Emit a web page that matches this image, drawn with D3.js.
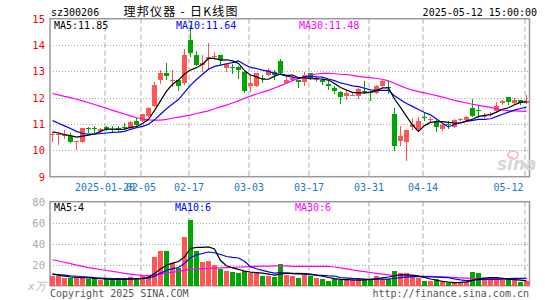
<!DOCTYPE html>
<html>
<head>
<meta charset="utf-8">
<script src="https://cdn.jsdelivr.net/npm/d3@7/dist/d3.min.js"></script>
<style>
  body { margin: 0; background: #fff; }
  text { font-family: "DejaVu Sans Mono", monospace; font-size: 10px; }
</style>
</head>
<body>
<script>
// trading days shown on the chart
var dates = [
  "2025-01-07","2025-01-08","2025-01-09","2025-01-10","2025-01-13","2025-01-14","2025-01-15","2025-01-16","2025-01-17","2025-01-20",
  "2025-01-21","2025-01-22","2025-01-23","2025-01-24","2025-01-27","2025-02-05","2025-02-06","2025-02-07","2025-02-10","2025-02-11",
  "2025-02-12","2025-02-13","2025-02-14","2025-02-17","2025-02-18","2025-02-19","2025-02-20","2025-02-21","2025-02-24","2025-02-25",
  "2025-02-26","2025-02-27","2025-02-28","2025-03-03","2025-03-04","2025-03-05","2025-03-06","2025-03-07","2025-03-10","2025-03-11",
  "2025-03-12","2025-03-13","2025-03-14","2025-03-17","2025-03-18","2025-03-19","2025-03-20","2025-03-21","2025-03-24","2025-03-25",
  "2025-03-26","2025-03-27","2025-03-28","2025-03-31","2025-04-01","2025-04-02","2025-04-03","2025-04-07","2025-04-08","2025-04-09",
  "2025-04-10","2025-04-11","2025-04-14","2025-04-15","2025-04-16","2025-04-17","2025-04-18","2025-04-21","2025-04-22","2025-04-23",
  "2025-04-24","2025-04-25","2025-04-28","2025-04-29","2025-04-30","2025-05-06","2025-05-07","2025-05-08","2025-05-09","2025-05-12"
];

var open = [
  10.60,10.58,10.57,10.55,10.30,10.33,10.86,10.84,10.72,10.87,
  10.83,10.84,10.88,10.84,11.13,11.13,11.31,11.68,12.67,12.94,
  12.64,12.67,12.54,14.21,13.61,13.26,13.48,13.57,13.64,13.14,
  13.16,13.17,12.98,12.45,12.44,12.75,12.85,12.98,13.40,12.56,
  12.69,12.68,12.58,12.94,12.67,12.68,12.53,12.37,12.20,12.08,
  12.10,12.05,12.26,12.20,12.18,12.43,12.39,11.39,10.34,10.30,
  10.90,10.80,11.27,11.17,11.12,10.82,11.02,10.90,11.17,11.16,
  11.60,11.55,11.30,11.37,11.50,11.79,12.04,11.79,11.91,11.79
];
var high = [
  10.70,10.68,10.77,10.67,10.35,10.86,10.90,10.92,10.84,10.93,
  10.92,10.92,11.03,11.13,11.22,11.40,11.66,12.58,13.04,13.32,
  13.04,12.67,13.84,14.75,13.77,13.61,14.07,13.73,13.64,13.29,
  13.29,13.19,13.04,12.85,12.94,12.88,13.13,13.07,13.48,12.79,
  12.81,12.68,12.97,12.94,12.81,12.75,12.62,12.43,12.24,12.33,
  12.18,12.37,12.62,12.24,12.49,12.66,12.65,11.61,10.92,10.78,
  11.22,11.26,11.41,11.26,11.14,11.02,11.10,11.18,11.22,11.31,
  11.95,11.72,11.41,11.47,11.82,11.91,12.04,11.97,11.91,12.10
];
var low = [
  10.33,10.20,10.42,10.27,10.00,10.27,10.67,10.65,10.67,10.75,
  10.68,10.70,10.78,10.80,10.93,11.09,11.26,11.63,12.53,12.67,
  12.40,12.25,12.50,13.55,13.19,12.98,13.10,13.42,13.23,12.98,
  12.91,12.72,12.16,12.20,12.41,12.54,12.83,12.66,12.89,12.54,
  12.62,12.37,12.43,12.68,12.60,12.47,12.30,12.14,11.76,11.90,
  12.08,11.95,12.14,11.86,12.15,12.40,12.15,9.96,10.18,9.58,
  10.78,10.75,11.13,11.06,10.69,10.75,10.82,10.84,11.10,11.13,
  11.26,11.22,11.22,11.28,11.41,11.72,11.72,11.72,11.72,11.76
];
var close = [
  10.64,10.63,10.60,10.30,10.35,10.84,10.81,10.80,10.81,10.81,
  10.81,10.78,10.86,11.09,10.97,11.38,11.62,12.48,12.94,12.83,
  12.67,12.45,13.61,13.70,13.26,13.33,13.55,13.60,13.42,13.29,
  13.13,13.07,12.25,12.56,12.92,12.72,13.07,12.85,12.94,12.69,
  12.73,12.58,12.87,12.75,12.70,12.58,12.43,12.24,12.02,12.18,
  12.12,12.34,12.24,12.18,12.46,12.62,12.35,10.15,10.56,10.76,
  11.00,11.13,11.23,11.20,10.90,10.97,10.99,11.15,11.19,11.28,
  11.31,11.53,11.32,11.38,11.69,11.87,11.82,11.90,11.80,11.86
];

var ma5 = [
  10.70,10.66,10.60,10.56,10.50,10.54,10.58,10.62,10.72,10.81,
  10.81,10.80,10.81,10.87,10.90,11.02,11.18,11.51,11.88,12.25,
  12.51,12.67,12.90,13.05,13.14,13.27,13.49,13.49,13.43,13.44,
  13.40,13.30,13.03,12.86,12.79,12.70,12.70,12.82,12.90,12.85,
  12.86,12.76,12.76,12.72,12.73,12.70,12.67,12.54,12.39,12.29,
  12.20,12.18,12.18,12.21,12.27,12.37,12.37,11.95,11.63,11.29,
  10.96,10.72,10.94,11.06,11.09,11.09,11.06,11.04,11.04,11.12,
  11.18,11.29,11.33,11.36,11.45,11.56,11.62,11.73,11.82,11.85
];
var ma10 = [
  11.13,11.03,10.93,10.83,10.72,10.64,10.62,10.62,10.64,10.66,
  10.68,10.69,10.72,10.80,10.86,10.91,10.99,11.16,11.37,11.58,
  11.76,11.93,12.20,12.47,12.69,12.89,13.08,13.19,13.24,13.29,
  13.33,13.40,13.26,13.15,13.11,13.05,13.00,12.93,12.88,12.82,
  12.78,12.73,12.79,12.81,12.79,12.78,12.71,12.65,12.56,12.51,
  12.45,12.42,12.36,12.30,12.28,12.28,12.28,12.07,11.92,11.78,
  11.67,11.55,11.44,11.35,11.19,11.03,10.89,10.99,11.05,11.10,
  11.14,11.18,11.18,11.20,11.28,11.37,11.45,11.53,11.59,11.64
];
var ma30 = [
  12.16,12.11,12.05,12.00,11.94,11.88,11.81,11.74,11.67,11.60,
  11.52,11.45,11.38,11.31,11.24,11.19,11.16,11.15,11.15,11.18,
  11.22,11.26,11.30,11.34,11.40,11.45,11.50,11.58,11.65,11.72,
  11.80,11.88,11.98,12.06,12.14,12.21,12.28,12.37,12.46,12.55,
  12.65,12.72,12.79,12.86,12.90,12.92,12.92,12.91,12.89,12.88,
  12.85,12.81,12.78,12.76,12.73,12.70,12.64,12.55,12.45,12.36,
  12.29,12.23,12.18,12.13,12.08,12.02,11.96,11.90,11.85,11.80,
  11.75,11.71,11.67,11.63,11.58,11.54,11.51,11.50,11.49,11.48
];

// volume, 万
var vol = [
  8.8,8.8,7.2,7.2,7.2,9.7,6.6,6.6,5.0,6.0,
  6.0,6.0,7.2,8.0,6.0,9.7,10.0,27.0,33.0,33.0,
  22.0,17.0,46.0,63.0,33.0,23.0,24.0,20.0,16.0,14.4,
  12.8,12.2,13.8,12.2,12.2,8.8,9.0,8.1,21.0,10.5,
  9.0,7.8,10.0,9.3,7.0,6.5,4.8,6.2,5.8,6.2,
  5.6,6.2,6.0,6.0,8.8,6.2,6.0,14.2,11.7,11.7,
  9.2,7.0,4.6,4.6,6.2,4.0,3.0,3.0,3.0,4.0,
  12.6,11.7,7.0,6.2,6.2,7.0,6.2,5.6,3.8,4.6
];
var vma5 = [
  11.0,10.0,9.2,8.3,7.8,7.6,7.4,7.0,6.6,6.2,
  6.0,6.0,6.0,6.2,6.4,7.0,8.0,11.5,16.0,19.5,
  21.5,23.0,27.5,35.5,36.5,36.5,37.0,35.0,24.0,19.0,
  17.0,15.5,14.0,13.0,12.5,12.0,11.0,10.0,11.0,12.0,
  11.5,11.8,11.5,11.0,10.0,9.0,7.8,6.8,6.0,5.8,
  5.5,5.3,5.6,6.0,6.6,7.4,8.3,9.5,10.4,10.4,
  10.0,9.2,8.0,6.4,5.2,4.2,3.4,3.0,3.2,3.6,
  5.0,6.5,7.2,7.6,7.8,7.0,6.3,5.8,5.3,4.6
];
var vma10 = [
  11.0,10.5,10.0,9.4,9.0,8.5,8.1,7.7,7.3,7.0,
  6.8,6.7,6.6,6.6,6.7,6.8,7.2,9.1,11.9,14.6,
  16.2,17.3,21.2,26.7,29.4,30.7,32.1,31.4,29.7,27.8,
  26.9,26.4,23.2,18.1,16.1,14.6,13.1,12.0,12.5,12.1,
  11.7,11.2,10.9,10.6,10.1,9.8,9.4,9.2,7.7,7.3,
  6.9,6.8,6.4,6.0,6.2,6.2,6.3,7.1,7.7,8.2,
  8.6,8.7,8.5,8.4,8.1,7.9,7.6,6.5,5.6,4.9,
  5.2,5.7,5.9,6.1,6.1,6.4,6.7,7.0,7.0,7.1
];
var vma30 = [
  24.7,23.5,22.3,21.0,19.6,18.4,17.2,16.3,15.4,14.5,
  13.6,12.8,11.8,11.0,10.3,9.8,9.6,10.3,11.2,12.0,
  12.8,13.6,14.6,15.6,16.0,16.3,16.6,16.8,17.0,17.2,
  17.5,17.8,18.0,18.2,18.4,18.6,18.7,18.8,18.9,18.9,
  18.5,18.5,18.5,18.5,18.5,18.5,18.5,17.8,17.0,16.0,
  15.0,14.2,13.4,12.6,11.8,11.0,10.3,10.0,9.8,9.5,
  9.3,9.1,8.9,8.8,8.6,8.4,8.1,7.8,7.5,7.2,
  7.0,7.0,6.9,6.9,6.8,6.8,6.8,6.7,6.7,6.7
];

var tickDates = ["2025-01-20","2025-02-05","2025-02-17","2025-03-03","2025-03-17","2025-03-31","2025-04-14","2025-05-12"];
var tickLabels = ["2025-01-20","02-05","02-17","03-03","03-17","03-31","04-14","05-12"];
var priceTicks = [9,10,11,12,13,14,15];
var volTicks = [20,40,60,80];

var RED = "#ff5555", GREEN = "#00a600";

var svg = d3.select("body").append("svg")
    .attr("width", 545)
    .attr("height", 300);

var left = 50, right = 529.5;

var x = d3.scaleBand().domain(dates).range([49.5, 529.5]);
var cx = function(d) { return x(d) + 3; };
var y = d3.scaleLinear().domain([9, 15]).range([176.7, 18.7]);
var yv = d3.scaleLinear().domain([0, 80]).range([285.7, 201.7]);

var idx = d3.range(dates.length);
function up(i) { return close[i] >= open[i]; }

// header
svg.append("text").attr("x", 51).attr("y", 12).attr("dy", "0.35em").text("sz300206");
svg.append("text").attr("x", 123.5).attr("y", 12).attr("dy", "0.35em")
    .style("font-family", "'Noto Sans CJK SC', sans-serif").style("font-size", "12px")
    .attr("textLength", 114).attr("lengthAdjust", "spacing")
    .text("理邦仪器 - 日K线图");
svg.append("text").attr("x", 537).attr("y", 12).attr("dy", "0.35em")
    .attr("text-anchor", "end").text("2025-05-12 15:00:00");

// grid: dotted horizontals
svg.append("g").selectAll("line").data([10, 11, 12, 13, 14]).enter().append("line")
    .attr("x1", left).attr("x2", right)
    .attr("y1", function(d) { return Math.round(y(d)) + 0.5; })
    .attr("y2", function(d) { return Math.round(y(d)) + 0.5; })
    .attr("stroke", "#aaa").attr("stroke-dasharray", "1,2");
svg.append("g").selectAll("line").data([20, 40, 60]).enter().append("line")
    .attr("x1", left).attr("x2", right)
    .attr("y1", function(d) { return Math.round(yv(d)) + 0.5; })
    .attr("y2", function(d) { return Math.round(yv(d)) + 0.5; })
    .attr("stroke", "#aaa").attr("stroke-dasharray", "1,2");

// dashed verticals in both panels
[[18.7, 176.7], [201.7, 285.7]].forEach(function(r) {
  svg.append("g").selectAll("line").data(tickDates).enter().append("line")
      .attr("x1", function(d) { return x(d) + 1.5; })
      .attr("x2", function(d) { return x(d) + 1.5; })
      .attr("y1", r[0]).attr("y2", r[1])
      .attr("stroke", "#aaa").attr("stroke-dasharray", "5,3");
});

// frames
svg.append("rect").attr("x", left).attr("y", 18.7).attr("width", right - left).attr("height", 158)
    .attr("fill", "none").attr("stroke", "#999").attr("stroke-width", 1.5);
svg.append("rect").attr("x", left).attr("y", 201.7).attr("width", right - left).attr("height", 84)
    .attr("fill", "none").attr("stroke", "#999").attr("stroke-width", 1.5);

// price axis labels
var ay = svg.append("g").attr("transform", "translate(" + left + ",0)")
    .call(d3.axisLeft(y).tickValues(priceTicks).tickSize(0).tickPadding(5).tickFormat(d3.format("d")));
ay.select(".domain").remove();
ay.selectAll("text").attr("fill", "#ff0000").style("font-size", "10.5px")
    .style("font-family", "'DejaVu Sans Mono', monospace");

var av = svg.append("g").attr("transform", "translate(" + left + ",0)")
    .call(d3.axisLeft(yv).tickValues(volTicks).tickSize(0).tickPadding(5).tickFormat(d3.format("d")));
av.select(".domain").remove();
av.selectAll("text").attr("fill", "#aaa").style("font-size", "10.5px")
    .style("font-family", "'DejaVu Sans Mono', monospace");

svg.append("text").attr("x", 28).attr("y", 286).attr("dy", "0.35em")
    .attr("fill", "#bbb").style("font-style", "italic").style("font-size", "11px").text("x万");

// date labels (the first two overlap in the original too)
svg.append("g").selectAll("text").data(tickDates).enter().append("text")
    .attr("x", function(d, i) { return i === tickDates.length - 1 ? right - 6 : x(d) + 1.5; })
    .attr("y", 187).attr("dy", "0.35em")
    .attr("text-anchor", function(d, i) { return i === tickDates.length - 1 ? "end" : "middle"; })
    .attr("fill", "#1a7ac8")
    .text(function(d, i) { return tickLabels[i]; });

// sina watermark
var wm = svg.append("g");
wm.append("text").attr("x", 497).attr("y", 170).attr("fill", "#d8d8d8")
    .style("font-family", "'DejaVu Sans', sans-serif").style("font-size", "17px")
    .style("font-weight", "bold").style("font-style", "italic").text("sina");
wm.append("ellipse").attr("cx", 513).attr("cy", 155).attr("rx", 5).attr("ry", 4)
    .attr("fill", "none").attr("stroke", "#f5c0c0").attr("stroke-width", 2);

// candles
var cg = svg.append("g").attr("shape-rendering", "crispEdges");
cg.selectAll("line").data(idx).enter().append("line")
    .attr("x1", function(i) { return cx(dates[i]); })
    .attr("x2", function(i) { return cx(dates[i]); })
    .attr("y1", function(i) { return y(high[i]); })
    .attr("y2", function(i) { return y(low[i]); })
    .attr("stroke", function(i) { return up(i) ? RED : GREEN; });
cg.selectAll("rect").data(idx).enter().append("rect")
    .attr("x", function(i) { return cx(dates[i]) - 2.5; })
    .attr("width", 5)
    .attr("y", function(i) { return y(Math.max(open[i], close[i])); })
    .attr("height", function(i) { return Math.max(1, Math.abs(y(open[i]) - y(close[i]))); })
    .attr("fill", function(i) { return up(i) ? RED : GREEN; });

// volume bars
svg.append("g").attr("shape-rendering", "crispEdges").selectAll("rect").data(idx).enter().append("rect")
    .attr("x", function(i) { return cx(dates[i]) - 2.5; })
    .attr("width", 5)
    .attr("y", function(i) { return yv(vol[i]); })
    .attr("height", function(i) { return yv(0) - yv(vol[i]); })
    .attr("fill", function(i) { return up(i) ? RED : GREEN; });

// moving average lines
function maLine(arr, scale, color) {
  var line = d3.line()
      .x(function(i) { return cx(dates[i]); })
      .y(function(i) { return scale(arr[i]); });
  svg.append("path").datum(idx)
      .attr("d", line)
      .attr("fill", "none")
      .attr("stroke", color)
      .attr("stroke-width", 1.2);
}
maLine(ma30, y, "#ff00ff");
maLine(ma10, y, "#0000ff");
maLine(ma5, y, "#000000");
maLine(vma30, yv, "#ff00ff");
maLine(vma10, yv, "#0000ff");
maLine(vma5, yv, "#000000");

// legends
function legend(yy, items) {
  items.forEach(function(it) {
    svg.append("text").attr("x", it[0]).attr("y", yy).attr("dy", "0.35em")
        .attr("fill", it[2]).text(it[1]);
  });
}
legend(25, [[54, "MA5:11.85", "#000"], [176, "MA10:11.64", "#0000ff"], [299, "MA30:11.48", "#ff00ff"]]);
legend(207, [[54, "MA5:4", "#000"], [175, "MA10:6", "#0000ff"], [295, "MA30:6", "#ff00ff"]]);

// footer
svg.append("text").attr("x", 50).attr("y", 293).attr("dy", "0.35em").attr("fill", "#555")
    .text("Copyright 2025 SINA.COM");
svg.append("text").attr("x", 529).attr("y", 293).attr("dy", "0.35em").attr("fill", "#555")
    .attr("text-anchor", "end").text("http://finance.sina.com.cn");
</script>
</body>
</html>
